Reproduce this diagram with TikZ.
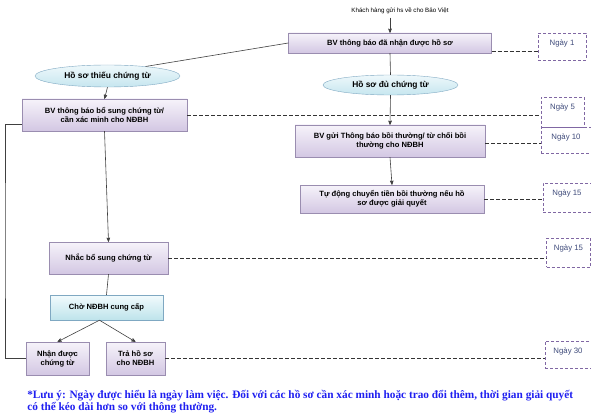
\documentclass[tikz,border=0pt]{standalone}
\usepackage{fontspec}
\setmainfont{Liberation Sans}
\newfontfamily\notefont{Liberation Serif}
\usetikzlibrary{arrows,shapes.geometric,shadows}

\definecolor{boxtop}{HTML}{F6F3FA}
\definecolor{boxbot}{HTML}{D3C7E3}
\definecolor{boxline}{HTML}{9A8DB0}
\definecolor{elltop}{HTML}{EEF8FB}
\definecolor{ellbot}{HTML}{C6E6EF}
\definecolor{ellline}{HTML}{7FA8C2}
\definecolor{waittop}{HTML}{F2FBFD}
\definecolor{waitbot}{HTML}{BEE3EB}
\definecolor{dayline}{HTML}{8067A3}
\definecolor{daytext}{HTML}{3E4A7A}
\definecolor{notecol}{HTML}{1F1FF0}

\begin{document}
\begin{tikzpicture}[->,>=stealth',x=1pt,y=-1pt,semithick,
                    font=\fontsize{7.6}{9}\selectfont\bfseries]
  \tikzstyle{stepbox}=[draw=boxline,thin,top color=boxtop,bottom color=boxbot,
                       align=center,inner sep=1pt,
                       drop shadow={opacity=0.35,shadow xshift=0.6pt,shadow yshift=-1.2pt}]
  \tikzstyle{casebox}=[ellipse,draw=ellline,thin,top color=elltop,bottom color=ellbot,
                       inner sep=0pt,font=\fontsize{8.4}{9}\selectfont\bfseries]
  \tikzstyle{daybox}=[draw=dayline,dash pattern=on 3pt off 2pt,thin,inner sep=3pt,
                      text height=9.5pt,text=daytext,font=\fontsize{7.8}{8}\selectfont\mdseries]
  \tikzstyle{dayline}=[-,dash pattern=on 4pt off 2pt,thin,draw=black!80]
  \tikzstyle{link}=[draw=black!75]

  \useasboundingbox (0,0) rectangle (591,414);

  \node (start) at (400,11) {\fontsize{6.2}{7}\selectfont\mdseries Khách hàng gửi hs về cho Bảo Việt};
  \node[stepbox,minimum width=203,minimum height=20] (recv) at (390,43) {BV thông báo đã nhận được hồ sơ};
  \node[casebox,minimum width=145,minimum height=22] (lack) at (107.5,76) {Hồ sơ thiếu chứng từ};
  \node[casebox,minimum width=135,minimum height=20] (full) at (390.5,85) {Hồ sơ đủ chứng từ};
  \node[stepbox,minimum width=165,minimum height=32] (ask) at (104.5,115) {BV thông báo bổ sung chứng từ/\\cần xác minh cho NĐBH};
  \node[stepbox,minimum width=190,minimum height=32] (notify) at (390,141) {BV gửi Thông báo bồi thường/ từ chối bồi\\thường cho NĐBH};
  \node[stepbox,minimum width=184,minimum height=28] (pay) at (392,199) {Tự động chuyển tiền bồi thường nếu hồ\\sơ được giải quyết};
  \node[stepbox,minimum width=119,minimum height=32] (remind) at (108.5,258) {Nhắc bổ sung chứng từ};
  \node[stepbox,minimum width=113,minimum height=25,top color=waittop,bottom color=waitbot,draw=ellline] (wait) at (106.5,307.5) {Chờ NĐBH cung cấp};
  \node[stepbox,minimum width=63,minimum height=33] (got) at (57.5,358.5) {Nhận được\\chứng từ};
  \node[stepbox,minimum width=59,minimum height=33] (back) at (135.5,358.5) {Trả hồ sơ\\cho NĐBH};

  \node[daybox,minimum width=48,text depth=11.5pt] (day1) at (562,46.5) {Ngày 1};
  \node[daybox,minimum width=43,text depth=14.5pt] (day5) at (562.5,112) {Ngày 5};
  \node[daybox,minimum width=50,text depth=10.5pt] (day10) at (566,140) {Ngày 10};
  \node[daybox,minimum width=48,text depth=13.5pt] (day15) at (567,197.5) {Ngày 15};
  \node[daybox,minimum width=44,text depth=13.5pt] (day15b) at (568.5,252.5) {Ngày 15};
  \node[daybox,minimum width=46,text depth=11.5pt] (day30) at (568,354.5) {Ngày 30};

  \coordinate (loop) at (5,240);

  \node[anchor=north west,text=notecol,align=left,inner sep=0pt,
        font=\notefont\bfseries\fontsize{11.3}{12}\selectfont] (note) at (27,390)
    {*Lưu ý: Ngày được hiểu là ngày làm việc. Đối với các hồ sơ cần xác minh hoặc trao đổi thêm, thời gian giải quyết\\
     có thể kéo dài hơn so với thông thường.};

  \draw[link] (start.south -| recv.north) -- (recv.north);
  \draw[link,-] (recv.west) -- (lack.14);
  \draw[link,-] (recv.south) -- (full.north);
  \draw[link] (lack.south) -- (ask.north);
  \draw[link] (full.south) -- (notify.north);
  \draw[link] (notify.south) -- (pay.north);
  \draw[link] (ask.south) -- (remind.north);
  \draw[link,-] (remind.south) -- (wait.north);
  \draw[link] ([xshift=-7pt]wait.south) -- (got.north);
  \draw[link] ([xshift=-7pt]wait.south) -- (back.north);
  \draw[link,-] ([yshift=-9pt]ask.west) -| (loop) |- (got.west);

  \draw[dayline] ([yshift=-8pt]recv.east) -- ([yshift=-8pt]recv.east -| day1.west);
  \draw[dayline] (ask.east) -- (ask.east -| day5.west);
  \draw[dayline] ([yshift=-2pt]notify.east) -- ([yshift=-2pt]notify.east -| day10.west);
  \draw[dayline] (pay.east) -- (pay.east -| day15.west);
  \draw[dayline] (remind.east) -- (remind.east -| day15b.west);
  \draw[dayline] (back.east) -- (back.east -| day30.west);

\end{tikzpicture}
\end{document}
